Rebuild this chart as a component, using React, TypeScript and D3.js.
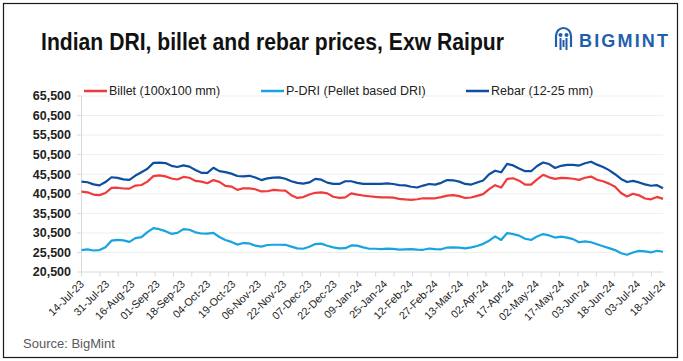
import React from 'react';
import * as d3 from 'd3';

const W = 683;
const H = 361;

// category axis: 254 daily points, ticks every 8, labels every 11
const N_POINTS = 254;
const TICK_EVERY = 8;
const LABEL_EVERY = 11;

const dateLabels = [
  '14-Jul-23', '31-Jul-23', '16-Aug-23', '01-Sep-23', '18-Sep-23', '04-Oct-23',
  '19-Oct-23', '06-Nov-23', '22-Nov-23', '07-Dec-23', '22-Dec-23', '09-Jan-24',
  '25-Jan-24', '12-Feb-24', '27-Feb-24', '13-Mar-24', '02-Apr-24', '17-Apr-24',
  '02-May-24', '17-May-24', '03-Jun-24', '18-Jun-24', '03-Jul-24', '18-Jul-24',
];

const yTicks = [20500, 25500, 30500, 35500, 40500, 45500, 50500, 55500, 60500, 65500];

// sampled evenly across the date axis (Rs/t)
const rebar = [
  43600, 43450, 42900, 42650, 43500, 44730, 44550, 44200, 44050, 45160,
  46010, 46900, 48400, 48450, 48350, 47650, 47350, 47750, 47450, 46600,
  45850, 45850, 47150, 46300, 46050, 45650, 45050, 44950, 45100, 44650,
  44000, 44450, 44650, 44700, 44350, 43700, 43300, 43100, 43400, 44300,
  44100, 43350, 43020, 43020, 43700, 43700, 43300, 43020, 43020, 43020,
  43020, 43150, 43000, 42700, 42650, 42300, 42100, 42600, 43000, 42850,
  43300, 44000, 43950, 43600, 43020, 42850, 43400, 43900, 45500, 46400,
  46000, 48150, 47750, 46950, 46270, 46270, 47600, 48500, 48100, 47100,
  47650, 47900, 47900, 47720, 48300, 48700, 47950, 47350, 46550, 45500,
  44300, 43500, 43800, 43400, 42900, 42550, 42700, 41900,
];

const billet = [
  41050, 40880, 40300, 40150, 40700, 42000, 42050, 41850, 41820, 42590,
  42750, 43600, 45000, 45200, 44950, 44400, 44150, 44800, 44600, 43800,
  43600, 43200, 44000, 43550, 42500, 42350, 41500, 41900, 41900, 41650,
  41100, 41140, 41480, 41350, 41310, 40150, 39430, 39650, 40300, 40750,
  40850, 40600, 39750, 39450, 39600, 40600, 40300, 40050, 39860, 39700,
  39600, 39600, 39500, 39200, 39050, 38950, 39100, 39350, 39350, 39350,
  39650, 40030, 40150, 39900, 39430, 39550, 39950, 40400, 41700, 42700,
  42100, 44300, 44470, 43850, 42850, 42850, 44200, 45350, 44700, 44300,
  44550, 44500, 44350, 44050, 44600, 44900, 44100, 43700, 43100, 42300,
  40700, 39800, 40500, 40100, 39300, 39090, 39700, 39200,
];

const pdri = [
  26100, 26270, 26000, 26100, 26800, 28500, 28700, 28600, 28200, 29180,
  29400, 30700, 31700, 31450, 30950, 30250, 30500, 31450, 31300, 30650,
  30350, 30300, 30500, 29450, 28700, 28200, 27500, 27900, 27800, 27250,
  26980, 27400, 27470, 27470, 27450, 27000, 26550, 26450, 26950, 27640,
  27750, 27200, 26800, 26550, 26600, 27300, 27250, 26800, 26450, 26450,
  26350, 26500, 26400, 26200, 26300, 26350, 26200, 26180, 26500, 26350,
  26300, 26750, 26780, 26750, 26530, 26780, 27150, 27700, 28500, 29600,
  28700, 30460, 30200, 29800, 29000, 28700, 29600, 30200, 29850, 29300,
  29550, 29300, 28900, 28100, 28320, 28100, 27600, 27100, 26600, 26100,
  25300, 24900, 25500, 25900, 25760, 25500, 25930, 25670,
];

const series = [
  { name: 'Billet (100x100 mm)', color: '#ef3b3a', values: billet },
  { name: 'P-DRI (Pellet based DRI)', color: '#18a4df', values: pdri },
  { name: 'Rebar (12-25 mm)', color: '#0c4e9f', values: rebar },
];

const FONT = "'Liberation Sans', Arial, sans-serif";

function drawChart(el: SVGSVGElement) {
  const svg = d3.select(el);
  svg.selectAll('*').remove();

  const x = d3.scaleLinear([0, N_POINTS - 1], [81.5, 663]);
  const y = d3.scaleLinear([20500, 65500], [272, 96]);

  // frame
  svg
    .append('rect')
    .attr('x', 3.5)
    .attr('y', 3.5)
    .attr('width', 674)
    .attr('height', 354)
    .attr('fill', 'white')
    .attr('stroke', '#1a1a1a')
    .attr('stroke-width', 1.2);

  // title
  svg
    .append('text')
    .attr('x', 41)
    .attr('y', 50)
    .attr('font-family', FONT)
    .attr('font-weight', 'bold')
    .attr('font-size', 24)
    .attr('textLength', 463)
    .attr('lengthAdjust', 'spacingAndGlyphs')
    .attr('fill', '#111')
    .text('Indian DRI, billet and rebar prices, Exw Raipur');

  // logo
  const logo = svg.append('g').attr('fill', '#1f5fae').attr('stroke', '#1f5fae');
  logo
    .append('path')
    .attr('d', 'M556,47 L556,36 A7.5,8 0 0 1 571,36 L571,47')
    .attr('fill', 'none')
    .attr('stroke-width', 2.2);
  logo.append('circle').attr('cx', 560.5).attr('cy', 35).attr('r', 2).attr('stroke', 'none');
  logo.append('circle').attr('cx', 566.5).attr('cy', 35).attr('r', 2).attr('stroke', 'none');
  logo
    .append('path')
    .attr('d', 'M560.5,38 L560.5,50 M566.5,38 L566.5,50 M563.5,40 L563.5,47')
    .attr('fill', 'none')
    .attr('stroke-width', 2);
  logo
    .append('text')
    .attr('x', 579)
    .attr('y', 47)
    .attr('stroke', 'none')
    .attr('font-family', FONT)
    .attr('font-weight', 'bold')
    .attr('font-size', 18)
    .attr('textLength', 89)
    .attr('lengthAdjust', 'spacing')
    .text('BIGMINT');

  // legend
  const legendX = [84, 261, 466];
  const lg = svg
    .selectAll('g.legend')
    .data(series)
    .enter()
    .append('g')
    .attr('class', 'legend')
    .attr('transform', (_d, i) => `translate(${legendX[i]}, 91)`);
  lg.append('line')
    .attr('x1', 0)
    .attr('x2', 23)
    .attr('stroke', (d) => d.color)
    .attr('stroke-width', 2.5);
  lg.append('text')
    .attr('x', 25)
    .attr('dy', '0.35em')
    .attr('font-family', FONT)
    .attr('font-size', 12.5)
    .attr('fill', '#222')
    .text((d) => d.name);

  // gridlines
  svg
    .append('g')
    .selectAll('line')
    .data(yTicks.slice(1))
    .enter()
    .append('line')
    .attr('x1', 81.5)
    .attr('x2', 663)
    .attr('y1', (d) => y(d))
    .attr('y2', (d) => y(d))
    .attr('stroke', '#efefef')
    .attr('stroke-width', 1);

  // y axis
  svg
    .append('line')
    .attr('x1', 81.5)
    .attr('x2', 81.5)
    .attr('y1', y(65500))
    .attr('y2', y(20500))
    .attr('stroke', '#d9d9d9');
  const yg = svg.append('g');
  yg.selectAll('line')
    .data(yTicks)
    .enter()
    .append('line')
    .attr('x1', 77)
    .attr('x2', 81.5)
    .attr('y1', (d) => y(d))
    .attr('y2', (d) => y(d))
    .attr('stroke', '#d9d9d9');
  yg.selectAll('text')
    .data(yTicks)
    .enter()
    .append('text')
    .attr('x', 71)
    .attr('y', (d) => y(d))
    .attr('dy', '0.35em')
    .attr('text-anchor', 'end')
    .attr('font-family', FONT)
    .attr('font-weight', 'bold')
    .attr('font-size', 12.5)
    .attr('fill', '#222')
    .text((d) => d3.format(',')(d));

  // x axis
  svg
    .append('line')
    .attr('x1', 81.5)
    .attr('x2', 663)
    .attr('y1', y(20500))
    .attr('y2', y(20500))
    .attr('stroke', '#d9d9d9');
  const tickIdx = d3.range(0, N_POINTS, TICK_EVERY);
  svg
    .append('g')
    .selectAll('line')
    .data(tickIdx)
    .enter()
    .append('line')
    .attr('x1', (d) => x(d))
    .attr('x2', (d) => x(d))
    .attr('y1', y(20500))
    .attr('y2', y(20500) + 4.5)
    .attr('stroke', '#d9d9d9');
  svg
    .append('g')
    .selectAll('text')
    .data(dateLabels)
    .enter()
    .append('text')
    .attr('transform', (_d, i) => `translate(${x(i * LABEL_EVERY) + 0.5}, 282) rotate(-45)`)
    .attr('text-anchor', 'end')
    .attr('dy', '0.35em')
    .attr('font-family', FONT)
    .attr('font-size', 10.8)
    .attr('fill', '#222')
    .text((d) => d);

  // lines
  const line = d3
    .line<number>()
    .x((_d, i, arr) => x((i * (N_POINTS - 1)) / (arr.length - 1)))
    .y((d) => y(d));
  svg
    .append('g')
    .selectAll('path')
    .data(series)
    .enter()
    .append('path')
    .attr('d', (d) => line(d.values))
    .attr('fill', 'none')
    .attr('stroke', (d) => d.color)
    .attr('stroke-width', 2.2)
    .attr('stroke-linejoin', 'round');

  // source
  svg
    .append('text')
    .attr('x', 23)
    .attr('y', 343)
    .attr('dy', '0.35em')
    .attr('font-family', FONT)
    .attr('font-size', 13)
    .attr('fill', '#595959')
    .text('Source: BigMint');
}

export default function App() {
  const ref = React.useRef<SVGSVGElement>(null);

  React.useEffect(() => {
    document.body.style.margin = '0';
    if (ref.current) drawChart(ref.current);
  }, []);

  return <svg ref={ref} width={W} height={H} style={{ display: 'block' }} />;
}
